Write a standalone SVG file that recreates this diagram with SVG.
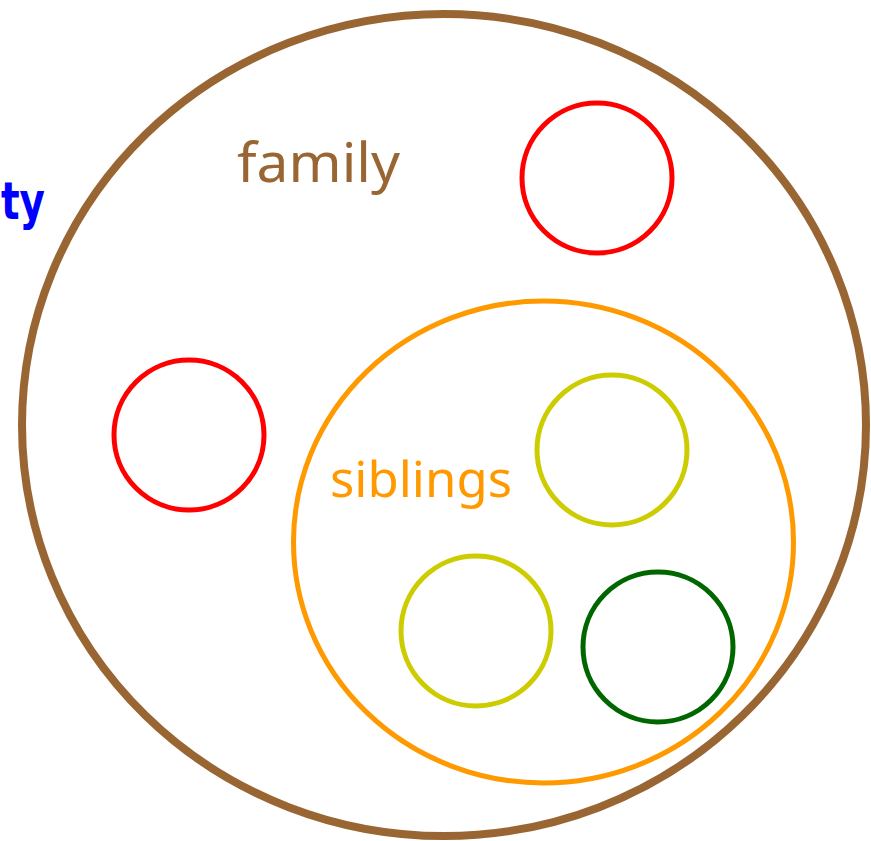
<svg xmlns="http://www.w3.org/2000/svg" width="871" height="841" viewBox="0 0 871 841">
<style>
.lbl{font-family:"Comic Sans MS","Noto Sans",sans-serif;}
.c{fill:none;}
</style>
<rect width="871" height="841" fill="#fff"/>
<g id="society-label"><text x="1" y="219" font-family="'DejaVu Sans',sans-serif" font-weight="bold" font-size="52" fill="#0000ff" textLength="44" lengthAdjust="spacingAndGlyphs">ty</text></g>
<g id="family"><ellipse class="c" cx="444" cy="425" rx="422" ry="411" stroke="#996633" stroke-width="8"/>
<text class="lbl" x="237" y="182" font-size="54" fill="#996633" textLength="163" lengthAdjust="spacingAndGlyphs">family</text></g>
<g id="red-top"><circle class="c" cx="597" cy="178" r="75" stroke="#ff0000" stroke-width="5"/></g>
<g id="red-left"><circle class="c" cx="189" cy="435" r="75" stroke="#ff0000" stroke-width="5"/></g>
<g id="siblings"><ellipse class="c" cx="543.5" cy="542" rx="250" ry="241" stroke="#ff9900" stroke-width="5"/>
<text class="lbl" x="330" y="497" font-size="50" fill="#ff9900" textLength="182" lengthAdjust="spacingAndGlyphs">siblings</text></g>
<g id="yellow-1"><circle class="c" cx="612" cy="450" r="75" stroke="#cccc00" stroke-width="5"/></g>
<g id="yellow-2"><circle class="c" cx="476" cy="631" r="75" stroke="#cccc00" stroke-width="5"/></g>
<g id="green"><circle class="c" cx="658" cy="647" r="75" stroke="#006600" stroke-width="5"/></g>
<g id="connectors"/>
</svg>
